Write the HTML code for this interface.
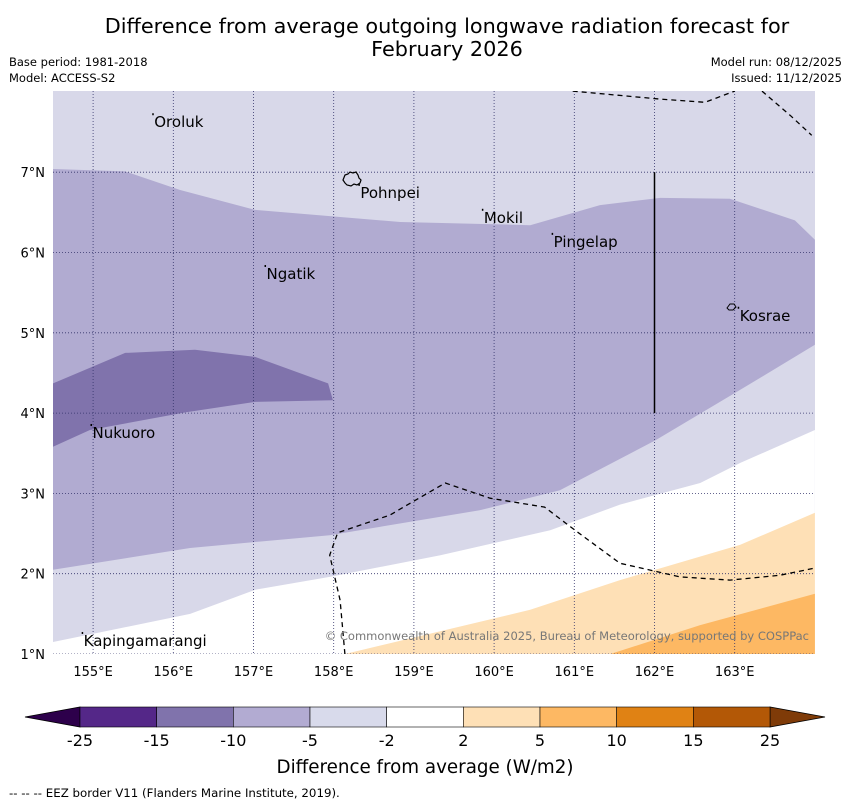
<!DOCTYPE html>
<html><head><meta charset="utf-8"><style>
body{margin:0;background:#fff;}
svg{display:block;}
.c{font-family:"DejaVu Sans",sans-serif;}
.m{font-family:"DejaVu Sans",sans-serif;}
</style></head><body>
<svg id="chart" width="850" height="804" viewBox="0 0 850 804">
<text class="c" x="447" y="33" font-size="20.8" text-anchor="middle">Difference from average outgoing longwave radiation forecast for</text>
<text class="c" x="447" y="56" font-size="20.8" text-anchor="middle">February 2026</text>
<text class="c" x="9" y="66" font-size="11.5">Base period: 1981-2018</text>
<text class="c" x="9" y="82" font-size="11.5">Model: ACCESS-S2</text>
<text class="c" x="842" y="66" font-size="11.5" text-anchor="end">Model run: 08/12/2025</text>
<text class="c" x="842" y="82" font-size="11.5" text-anchor="end">Issued: 11/12/2025</text>
<defs><clipPath id="mapclip"><rect x="53" y="91" width="762" height="563"/></clipPath></defs>
<g id="map" clip-path="url(#mapclip)"></g>
<g id="axes"></g>
<g id="cbar"></g>
<text class="c" x="425" y="773" font-size="18.3" text-anchor="middle">Difference from average (W/m2)</text>
<text class="c" x="9" y="797" font-size="11.8">--  --  -- EEZ border V11 (Flanders Marine Institute, 2019).</text>
</svg>
<script>
const lonTicks=[155,156,157,158,159,160,161,162,163];
const latTicks=[1,2,3,4,5,6,7];
const lightPurpleLower=[[154.5,1.15],[156.21,1.5],[157.02,1.8],[157.95,1.96],[159.33,2.23],[160.7,2.54],[161.57,2.86],[162.57,3.13],[163.07,3.38],[164,3.79]];
const mediumPurpleTop=[[154.5,7.04],[155.4,7.01],[156.08,6.78],[157.02,6.53],[158.83,6.38],[160.45,6.34],[161.32,6.59],[162.07,6.68],[162.94,6.67],[163.75,6.4],[164,6.16]];
const mediumPurpleBottom=[[164,4.85],[163.07,4.29],[162.01,3.66],[160.82,3.04],[159.82,2.79],[157.95,2.48],[156.21,2.32],[154.5,2.05]];
const darkPurple=[[154.5,4.37],[155.4,4.75],[156.27,4.79],[157.02,4.7],[157.93,4.37],[157.99,4.16],[157.02,4.14],[156.16,4.01],[154.96,3.79],[154.5,3.58]];
const lightOrange=[[158.14,1.0],[160.45,1.55],[161.57,1.92],[163.07,2.36],[164,2.76],[164,1.0]];
const midOrange=[[161.45,1.0],[162.57,1.36],[164,1.75],[164,1.0]];
const eezTop1=[[160.98,8.01],[162.07,7.91],[162.63,7.87],[163.0,8.01]];
const eezTop2=[[163.34,8.01],[163.69,7.71],[163.96,7.46]];
const eezLower=[[158.14,1.0],[158.08,1.67],[157.95,2.23],[158.05,2.51],[158.7,2.73],[159.39,3.13],[159.95,2.94],[160.63,2.83],[161.01,2.54],[161.57,2.13],[162.32,1.96],[162.94,1.92],[163.56,1.98],[164,2.07]];
const places=[["Oroluk",155.75,7.56],["Pohnpei",158.32,6.68],["Mokil",159.86,6.37],["Pingelap",160.73,6.07],["Ngatik",157.15,5.67],["Kosrae",163.05,5.15],["Nukuoro",154.98,3.69],["Kapingamarangi",154.87,1.10]];
const cbLevels=["-25","-15","-10","-5","-2","2","5","10","15","25"];
const cbColors=["#542788","#8073ac","#b2abd2","#d8daeb","#ffffff","#fee0b6","#fdb863","#e08214","#b35806"];
const NS='http://www.w3.org/2000/svg';
const X=lon=>53+(lon-154.5)*80.2;
const Y=lat=>654-(lat-1)*80.3;
const pts=a=>a.map(p=>X(p[0]).toFixed(1)+','+Y(p[1]).toFixed(1)).join(' ');
function mk(tag,attrs,parent){const e=document.createElementNS(NS,tag);for(const k in attrs)e.setAttribute(k,attrs[k]);parent.appendChild(e);return e;}
const map=document.getElementById('map');
let e=mk('rect',{x:53,y:91,width:762,height:563,fill:'#d8d8e9'},map);


e=mk('polygon',{points:pts(lightPurpleLower.concat([[164,1],[154.5,1]])),fill:'#ffffff'},map);


e=mk('polygon',{points:pts(mediumPurpleTop.concat(mediumPurpleBottom)),fill:'#b1abd1'},map);


e=mk('polygon',{points:pts(darkPurple),fill:'#8073ac'},map);


e=mk('polygon',{points:pts(lightOrange),fill:'#fee0b6'},map);


e=mk('polygon',{points:pts(midOrange),fill:'#fdb863'},map);


lonTicks.forEach(l=>{e=mk('line',{x1:X(l),x2:X(l),y1:91,y2:654,stroke:'#33336a','stroke-width':0.8,'stroke-dasharray':'1,2'},map);

});
latTicks.forEach(l=>{e=mk('line',{x1:53,x2:815,y1:Y(l),y2:Y(l),stroke:'#33336a','stroke-width':0.8,'stroke-dasharray':'1,2'},map);

});
[eezTop1,eezTop2,eezLower].forEach(a=>{e=mk('polyline',{points:pts(a),fill:'none',stroke:'#000','stroke-width':1.3,'stroke-dasharray':'5,4'},map);

});
e=mk('line',{x1:X(162),x2:X(162),y1:Y(7),y2:Y(4),stroke:'#000','stroke-width':1.5},map);


e=mk('path',{d:'M343,180 l2,-5 l3,-1 l2,-2 l3,1 l3,-1 l2,3 l1,3 l2,2 l-1,3 l-3,2 l-3,-1 l-3,2 l-4,-1 l-2,-2z',fill:'none',stroke:'#000','stroke-width':1.2},map);


e=mk('path',{d:'M727,308 l3,-4 l4,0 l2,3 l-3,3 l-4,0z',fill:'none',stroke:'#000','stroke-width':1},map);


places.forEach(p=>{e=mk('text',{x:X(p[1])+1,y:Y(p[2]),'font-size':15,class:'m',fill:'#000'},map);e.textContent=p[0];


e=mk('rect',{x:X(p[1])-1,y:Y(p[2])-14,width:1.5,height:2,fill:'#000'},map);

});
e=mk('text',{x:809,y:640,'font-size':11.5,class:'m','text-anchor':'end',fill:'#777'},map);e.textContent='© Commonwealth of Australia 2025, Bureau of Meteorology, supported by COSPPac';


const axes=document.getElementById('axes');
lonTicks.forEach(l=>{e=mk('text',{x:X(l),y:676,'font-size':13,class:'m','text-anchor':'middle'},axes);e.textContent=l+'°E';

});
latTicks.forEach(l=>{e=mk('text',{x:45,y:Y(l)+5,'font-size':13,class:'m','text-anchor':'end'},axes);e.textContent=l+'°N';

});
const cb=document.getElementById('cbar');
const cx0=80,cx1=770,cy=707,ch=20,sw=(cx1-cx0)/cbColors.length;
e=mk('polygon',{points:`${cx0},${cy} ${cx0},${cy+ch} 25,${cy+ch/2}`,fill:'#2d004b',stroke:'#000','stroke-width':0.8},cb);


e=mk('polygon',{points:`${cx1},${cy} ${cx1},${cy+ch} 825,${cy+ch/2}`,fill:'#7f3b08',stroke:'#000','stroke-width':0.8},cb);


cbColors.forEach((c,i)=>{e=mk('rect',{x:cx0+i*sw,y:cy,width:sw,height:ch,fill:c,stroke:'#000','stroke-width':0.6},cb);

});
cbLevels.forEach((t,i)=>{e=mk('text',{x:cx0+i*sw,y:746,'font-size':16,class:'c','text-anchor':'middle'},cb);e.textContent=t;

});
</script>
</body></html>
